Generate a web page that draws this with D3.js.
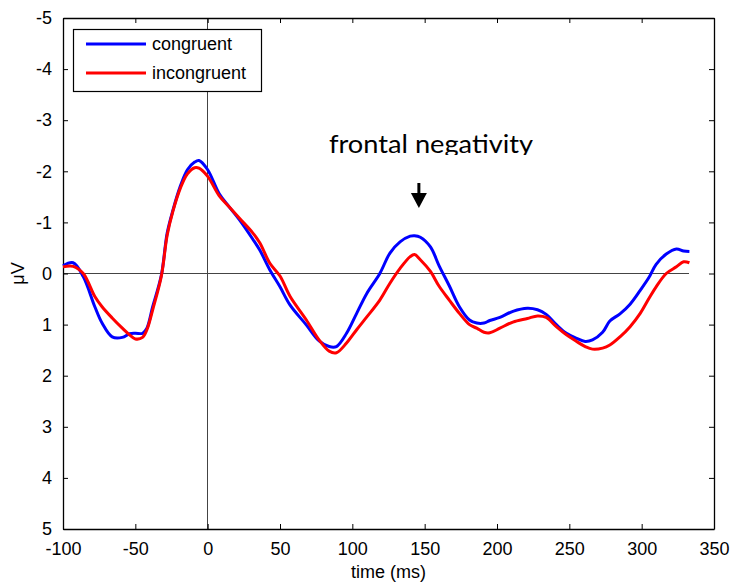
<!DOCTYPE html>
<html><head><meta charset="utf-8">
<script src="https://cdn.jsdelivr.net/npm/d3@7"></script>
<style>body{margin:0;background:#fff}svg{display:block}</style>
</head><body>
<svg id="c" width="732" height="584"></svg>
<script>
const timeMs = [-100,-93,-86,-78,-73,-66,-59,-54,-50,-45,-42,-38,-32,-28,-24,-19,-14,-9,-6,0,8,15,22,31,36,43,50,57,68,77,84,89,96,103,110,119,126,133,140,143,147,154,160,167,174,181,186,191,195,202,211,221,228,234,241,248,255,261,266,273,278,285,292,299,305,310,317,324,329,333];
const congruent = [-0.15,-0.21,0.06,0.65,0.97,1.24,1.25,1.18,1.17,1.17,1.07,0.65,0.03,-0.79,-1.24,-1.70,-2.03,-2.18,-2.21,-2.03,-1.56,-1.3,-1.05,-0.68,-0.46,-0.07,0.26,0.62,1.0,1.32,1.43,1.43,1.17,0.78,0.39,0.0,-0.4,-0.62,-0.73,-0.74,-0.71,-0.52,-0.15,0.24,0.65,0.91,0.97,0.97,0.92,0.86,0.74,0.68,0.71,0.8,1.0,1.17,1.27,1.33,1.3,1.15,0.93,0.79,0.6,0.33,0.08,-0.18,-0.38,-0.48,-0.44,-0.43];
const incongruent = [-0.13,-0.14,0.0,0.45,0.65,0.87,1.07,1.2,1.28,1.25,1.1,0.71,0.05,-0.75,-1.22,-1.66,-1.95,-2.07,-2.06,-1.9,-1.52,-1.3,-1.08,-0.8,-0.6,-0.2,0.05,0.45,0.9,1.3,1.52,1.55,1.36,1.1,0.85,0.52,0.19,-0.1,-0.33,-0.37,-0.27,-0.04,0.25,0.52,0.78,1.0,1.07,1.15,1.16,1.07,0.95,0.88,0.83,0.86,1.04,1.2,1.33,1.43,1.48,1.46,1.4,1.24,1.04,0.78,0.49,0.26,0.0,-0.13,-0.23,-0.21];
const xTicks = [-100,-50,0,50,100,150,200,250,300,350];
const yTicks = [-5,-4,-3,-2,-1,0,1,2,3,4,5];
const seriesNames = ["congruent","incongruent"];
const seriesColors = ["#0000ff","#ff0000"];
const annotation = {text:"frontal negativity", t:146};

const svg = d3.select("#c");
const L=63, R=714, T=18, B=529;
const x = d3.scaleLinear().domain([-100,350]).range([L,R]);
const y = d3.scaleLinear().domain([-5,5]).range([T,B]);
const font = "'Liberation Sans', Arial, sans-serif";
const fmt = d => String(d);

// reference lines
svg.append("line").attr("x1",x(0)).attr("x2",x(0)).attr("y1",T).attr("y2",B)
  .attr("stroke","#444").attr("stroke-width",1).attr("shape-rendering","crispEdges");
svg.append("line").attr("x1",x(-100)).attr("x2",x(d3.max(timeMs))).attr("y1",y(0)).attr("y2",y(0))
  .attr("stroke","#444").attr("stroke-width",1).attr("shape-rendering","crispEdges");

// axes (MATLAB box with inward ticks)
const tk = 5;
const gB = svg.append("g").attr("transform",`translate(0,${B})`)
  .call(d3.axisBottom(x).tickValues(xTicks).tickSizeInner(-tk).tickSizeOuter(0).tickPadding(tk+8).tickFormat(fmt));
const gT = svg.append("g").attr("transform",`translate(0,${T})`)
  .call(d3.axisTop(x).tickValues(xTicks).tickSizeInner(-tk).tickSizeOuter(0).tickFormat(""));
const gL = svg.append("g").attr("transform",`translate(${L},0)`)
  .call(d3.axisLeft(y).tickValues(yTicks).tickSizeInner(-tk).tickSizeOuter(0).tickPadding(tk+6).tickFormat(fmt));
const gR = svg.append("g").attr("transform",`translate(${R},0)`)
  .call(d3.axisRight(y).tickValues(yTicks).tickSizeInner(-tk).tickSizeOuter(0).tickFormat(""));
[gB,gT,gL,gR].forEach(g=>{
  g.select(".domain").attr("stroke","#000").attr("stroke-width",1.3);
  g.selectAll(".tick line").attr("stroke","#000");
  g.selectAll("text").attr("font-family",font).attr("font-size",18).attr("fill","#000");
});
gB.selectAll("text").attr("dy","0.71em");

// series
const line = d3.line().x((d,i)=>x(timeMs[i])).y(d=>y(d)).curve(d3.curveCatmullRom.alpha(0.5));
[congruent,incongruent].forEach((s,k)=>{
  svg.append("path").attr("d",line(s)).attr("fill","none")
    .attr("stroke",seriesColors[k]).attr("stroke-width",3).attr("stroke-linejoin","round");
});

// axis labels
svg.append("text").attr("x",(L+R)/2).attr("y",578).attr("text-anchor","middle")
  .attr("font-family",font).attr("font-size",18).text("time (ms)");
svg.append("text").attr("transform",`translate(24,${(T+B)/2}) rotate(-90)`).attr("text-anchor","middle")
  .attr("font-family",font).attr("font-size",18).text("μV");

// legend
const lg = svg.append("g");
lg.append("rect").attr("x",73.5).attr("y",29.5).attr("width",188).attr("height",62)
  .attr("fill","#fff").attr("stroke","#000").attr("stroke-width",1.2);
seriesNames.forEach((n,k)=>{
  const yy = 44 + k*29;
  lg.append("line").attr("x1",86).attr("x2",146).attr("y1",yy).attr("y2",yy)
    .attr("stroke",seriesColors[k]).attr("stroke-width",3);
  lg.append("text").attr("x",152).attr("y",yy).attr("dy","0.35em")
    .attr("font-family",font).attr("font-size",18).text(n);
});

// annotation
svg.append("clipPath").attr("id","annClip").append("rect").attr("x",300).attr("y",110).attr("width",260).attr("height",45);
svg.append("text").attr("clip-path","url(#annClip)").attr("x",431).attr("y",153).attr("text-anchor","middle")
  .attr("font-family","Lato, 'Open Sans', sans-serif").attr("font-size",25)
  .attr("textLength",204).attr("lengthAdjust","spacingAndGlyphs").text(annotation.text);
const ax = x(annotation.t);
svg.append("line").attr("x1",ax).attr("x2",ax).attr("y1",183).attr("y2",194).attr("stroke","#000").attr("stroke-width",3);
svg.append("path").attr("d",`M${ax-8},193 L${ax+8},193 L${ax},208 Z`).attr("fill","#000");
</script>
</body></html>
